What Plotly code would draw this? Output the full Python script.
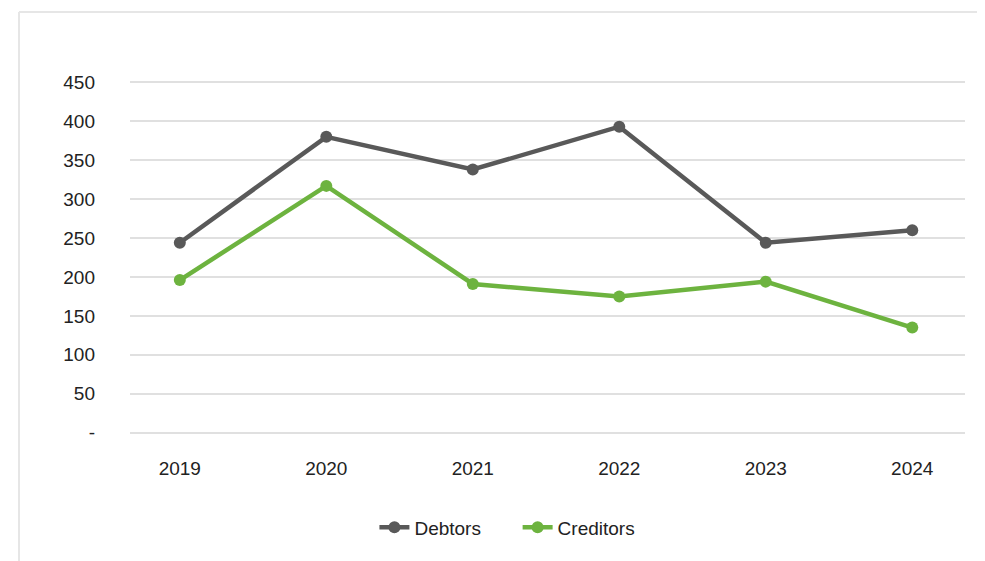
import plotly.graph_objects as go

years = ["2019", "2020", "2021", "2022", "2023", "2024"]
debtors = [244, 380, 338, 393, 244, 260]
creditors = [196, 317, 191, 175, 194, 135]
y_tickvals = [0, 50, 100, 150, 200, 250, 300, 350, 400, 450]
y_ticktext = ["-", "50", "100", "150", "200", "250", "300", "350", "400", "450"]

FONT = "Liberation Sans, Arial, Helvetica, sans-serif"

fig = go.Figure()
fig.add_trace(go.Scatter(
    x=years, y=debtors, name="Debtors      ", mode="lines+markers",
    line=dict(color="#595959", width=4.5),
    marker=dict(color="#595959", size=12),
))
fig.add_trace(go.Scatter(
    x=years, y=creditors, name="Creditors", mode="lines+markers",
    line=dict(color="#6db33f", width=4.5),
    marker=dict(color="#6db33f", size=12),
))

border = dict(color="#e6e6e6", width=2)
fig.update_layout(
    width=985, height=561,
    margin=dict(l=122, r=28, t=72, b=134, autoexpand=False),
    paper_bgcolor="white", plot_bgcolor="white",
    font=dict(family=FONT, size=19, color="#222222"),
    showlegend=True,
    legend=dict(orientation="h", x=0.452, xanchor="center", y=-0.26, yanchor="middle",
                font=dict(size=19, color="#222222"),
                traceorder="normal"),
    shapes=[
        dict(type="line", xref="paper", yref="paper",
             x0=-0.1329, x1=1.3, y0=1.1915, y1=1.1915, line=border, layer="below"),
        dict(type="line", xref="paper", yref="paper",
             x0=-0.1329, x1=-0.1329, y0=-0.6, y1=1.1915, line=border, layer="below"),
    ],
)
fig.update_xaxes(
    type="category", range=[-0.34, 5.36], showgrid=False, zeroline=False,
    showline=False, ticks="", ticklabelstandoff=20,
    tickfont=dict(size=19, color="#222222"),
)
fig.update_yaxes(
    range=[-3, 453], tickvals=y_tickvals, ticktext=y_ticktext,
    showgrid=True, gridcolor="#e0e0e0", gridwidth=1.5, zeroline=False,
    showline=False, ticks="", ticklabelstandoff=34,
    tickfont=dict(size=19, color="#222222"),
)

fig.write_html("out.html")
